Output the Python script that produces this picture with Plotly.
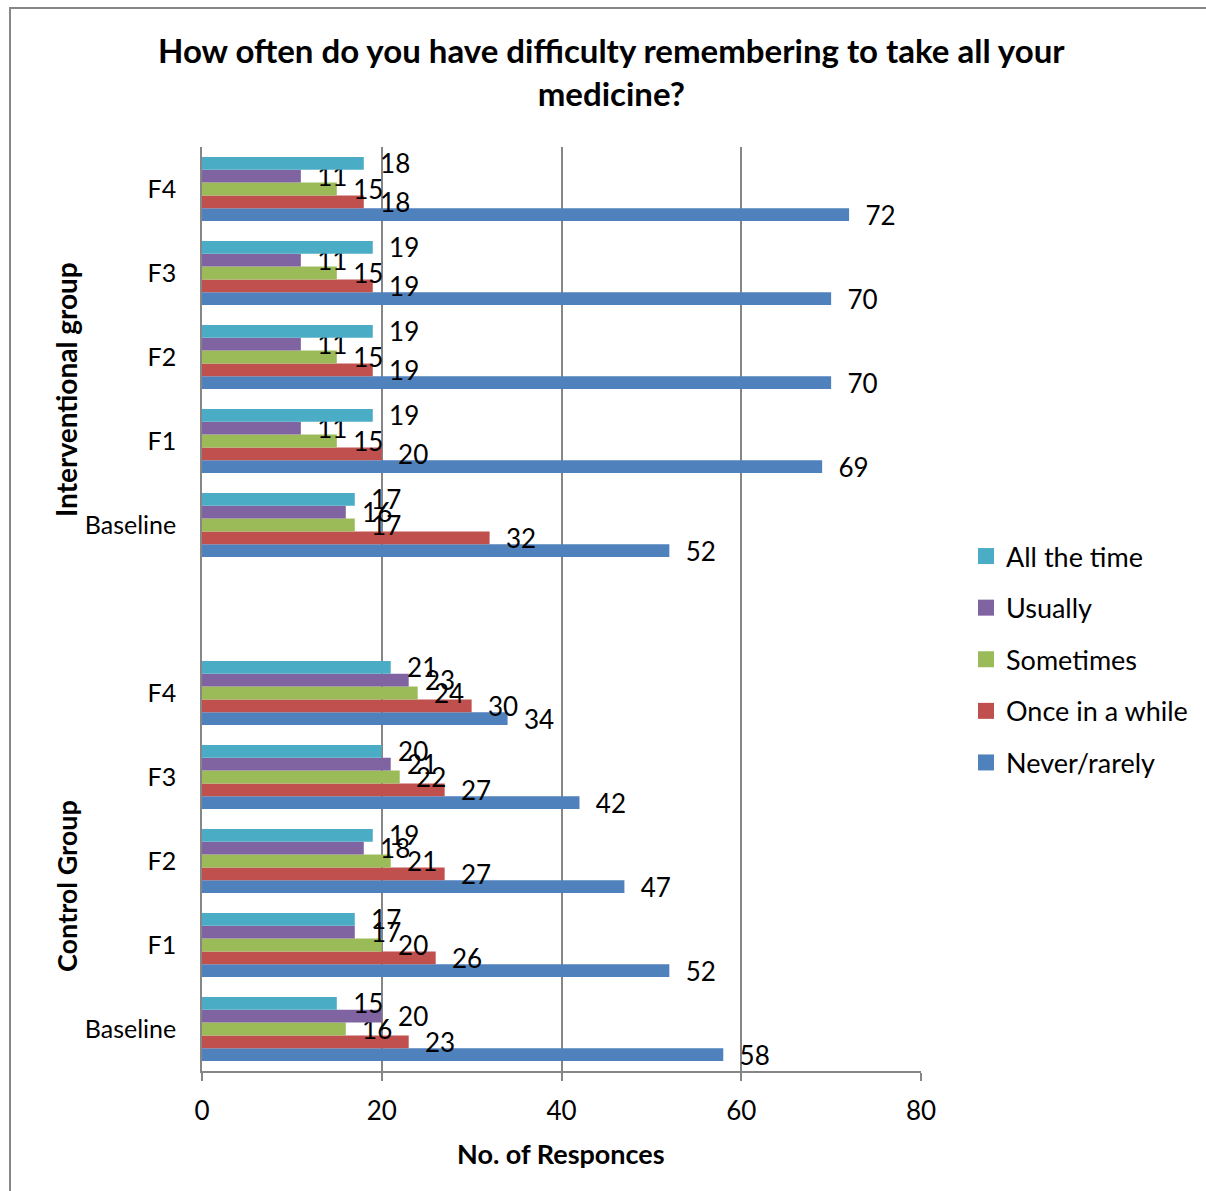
import plotly.graph_objects as go

# Response categories (bottom-to-top drawing order inside each group)
series = ["Never/rarely", "Once in a while", "Sometimes", "Usually", "All the time"]
colors = {
    "All the time": "#4BACC6",
    "Usually": "#8064A2",
    "Sometimes": "#9BBB59",
    "Once in a while": "#C0504D",
    "Never/rarely": "#4F81BD",
}

# Category rows, bottom to top; position 5 is an empty spacer row between groups
row_pos = [0, 1, 2, 3, 4, 6, 7, 8, 9, 10]
row_labels = ["Baseline", "F1", "F2", "F3", "F4",
              "Baseline", "F1", "F2", "F3", "F4"]

# Values per series, in the same order as row_pos
# (Control Group: Baseline..F4, then Interventional group: Baseline..F4)
never_rarely    = [58, 52, 47, 42, 34, 52, 69, 70, 70, 72]
once_in_a_while = [23, 26, 27, 27, 30, 32, 20, 19, 19, 18]
sometimes       = [16, 20, 21, 22, 24, 17, 15, 15, 15, 15]
usually         = [20, 17, 18, 21, 23, 16, 11, 11, 11, 11]
all_the_time    = [15, 17, 19, 20, 21, 17, 19, 19, 19, 18]

values = {
    "Never/rarely": never_rarely,
    "Once in a while": once_in_a_while,
    "Sometimes": sometimes,
    "Usually": usually,
    "All the time": all_the_time,
}

FONT = "Lato"
GRID = "#868686"
PAD = "\u00a0\u00a0"

fig = go.Figure()
for i, name in enumerate(series):
    fig.add_trace(go.Bar(
        x=values[name],
        y=row_pos,
        orientation="h",
        name=name,
        legendgroup=name,
        showlegend=False,
        marker=dict(color=colors[name], line=dict(width=0)),
        text=[f"{PAD}{v}" for v in values[name]],
        textposition="outside",
        constraintext="none",
        textangle=0,
        cliponaxis=False,
        textfont=dict(family=FONT, size=26, color="#000000"),
        hoverinfo="x+name",
    ))

# Legend entries with larger square swatches
for i, name in enumerate(series):
    fig.add_trace(go.Scatter(
        x=[None], y=[None],
        mode="markers",
        name=name,
        legendgroup=name,
        legendrank=len(series) - i,
        marker=dict(symbol="square", size=17, color=colors[name]),
        showlegend=True,
        hoverinfo="skip",
    ))

W, H = 1206, 1191
L, R, T, B = 202, 921, 147, 1071
pw, ph = R - L, B - T

def px(xp):
    return (xp - L) / pw

def py(yp):
    return 1 - (yp - T) / ph

fig.update_layout(
    width=W, height=H,
    margin=dict(l=L, r=W - R, t=T, b=H - B, pad=0),
    paper_bgcolor="white",
    plot_bgcolor="white",
    barmode="group",
    bargap=0.24,
    bargroupgap=0,
    font=dict(family=FONT, size=24, color="#000000"),
    showlegend=True,
    legend=dict(
        x=px(966), y=py(532), xanchor="left", yanchor="top",
        traceorder="grouped",
        tracegroupgap=13.5,
        font=dict(family=FONT, size=27),
        itemsizing="trace",
        itemwidth=30,
        bgcolor="rgba(0,0,0,0)",
    ),
    xaxis=dict(
        range=[0, 80], dtick=20, tick0=0,
        showgrid=True, gridcolor=GRID, gridwidth=1.5,
        showline=True, linecolor=GRID, linewidth=1.5,
        ticks="outside", ticklen=8, tickcolor=GRID, tickwidth=1.5,
        ticklabelstandoff=8,
        zeroline=False,
        tickfont=dict(family=FONT, size=26),
    ),
    yaxis=dict(
        range=[-0.5, 10.5],
        tickmode="array", tickvals=row_pos, ticktext=row_labels,
        showgrid=False, zeroline=False,
        showline=True, linecolor=GRID, linewidth=1.5,
        ticks="", ticklabelstandoff=19,
        tickfont=dict(family=FONT, size=25),
    ),
    annotations=[
        dict(text="<b>How often do you have difficulty remembering to take all your<br>medicine?</b>",
             xref="paper", yref="paper", x=px(611), y=py(71),
             xanchor="center", yanchor="middle", showarrow=False,
             font=dict(family=FONT, size=33)),
        dict(text="<b>No. of Responces</b>",
             xref="paper", yref="paper", x=px(561), y=py(1153),
             xanchor="center", yanchor="middle", showarrow=False,
             font=dict(family=FONT, size=27)),
        dict(text="<b>Interventional group</b>",
             xref="paper", yref="paper", x=px(66), y=py(390),
             xanchor="center", yanchor="middle", showarrow=False, textangle=-90,
             font=dict(family=FONT, size=28)),
        dict(text="<b>Control Group</b>",
             xref="paper", yref="paper", x=px(66), y=py(886),
             xanchor="center", yanchor="middle", showarrow=False, textangle=-90,
             font=dict(family=FONT, size=27)),
    ],
    shapes=[
        dict(type="rect", xref="paper", yref="paper",
             x0=px(10), y0=py(1300), x1=px(1300), y1=py(8),
             line=dict(color="#878787", width=2), fillcolor="rgba(0,0,0,0)",
             layer="below"),
    ],
)

fig.write_html("out.html")
